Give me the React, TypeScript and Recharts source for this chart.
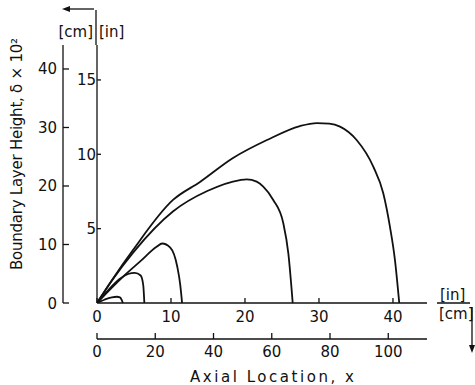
import React from 'react';
import { LineChart, Line, XAxis, YAxis, Customized } from 'recharts';

// tick labels
const xTicksIn = [0, 10, 20, 30, 40];
const xTicksCm = [0, 20, 40, 60, 80, 100];
const yTicksCm = [0, 10, 20, 30, 40];
const yTicksIn = [5, 10, 15];

// boundary layer height curves (x: axial location [in], y: height [in])
const curve1 = [
  { x: 0, y: 0 }, { x: 1.0, y: 0.22 }, { x: 2.0, y: 0.38 }, { x: 2.7, y: 0.42 },
  { x: 3.1, y: 0.38 }, { x: 3.35, y: 0.2 }, { x: 3.5, y: 0 },
];
const curve2 = [
  { x: 0, y: 0 }, { x: 1.5, y: 0.85 }, { x: 3.0, y: 1.6 }, { x: 4.2, y: 1.95 },
  { x: 5.1, y: 2.03 }, { x: 5.9, y: 1.85 }, { x: 6.25, y: 1.2 }, { x: 6.4, y: 0 },
];
const curve3 = [
  { x: 0, y: 0 }, { x: 3.5, y: 1.76 }, { x: 5.8, y: 2.78 }, { x: 8.1, y: 3.8 },
  { x: 8.8, y: 4.0 }, { x: 9.9, y: 3.73 }, { x: 10.85, y: 2.44 }, { x: 11.25, y: 1.22 },
  { x: 11.5, y: 0 },
];
const curve4 = [
  { x: 0, y: 0 }, { x: 2.0, y: 1.5 }, { x: 4.88, y: 3.39 }, { x: 10.3, y: 6.17 },
  { x: 14.9, y: 7.53 }, { x: 19.32, y: 8.27 }, { x: 20.23, y: 8.32 }, { x: 21.58, y: 8.16 },
  { x: 22.47, y: 7.82 }, { x: 23.82, y: 6.93 }, { x: 25.18, y: 5.36 }, { x: 25.86, y: 3.34 },
  { x: 26.45, y: 0 },
];
const curve5 = [
  { x: 0, y: 0 }, { x: 2.03, y: 1.55 }, { x: 4.86, y: 3.56 }, { x: 10.27, y: 6.93 },
  { x: 13.92, y: 8.14 }, { x: 18.38, y: 9.75 }, { x: 22.97, y: 10.96 }, { x: 27.43, y: 11.9 },
  { x: 29.73, y: 12.1 }, { x: 31.4, y: 12.06 }, { x: 32.84, y: 11.86 }, { x: 35.09, y: 10.96 },
  { x: 37.34, y: 9.17 }, { x: 38.69, y: 7.38 }, { x: 39.59, y: 5.13 }, { x: 40.27, y: 2.89 },
  { x: 40.85, y: 0 },
];
const curves = [curve1, curve2, curve3, curve4, curve5];

const FONT = '"DejaVu Sans", sans-serif';
const INK = '#111';

const YTickCm = (p: any) => (
  <g>
    <line x1={p.x} y1={p.y} x2={p.x + 6} y2={p.y} stroke={INK} strokeWidth={1.3} />
    <text x={p.x - 6} y={p.y + 5.5} textAnchor="end" fontFamily={FONT} fontSize={15} fill={INK}>
      {p.payload.value}
    </text>
  </g>
);

const YTickIn = (p: any) => (
  <g>
    <line x1={p.x} y1={p.y} x2={p.x + 4} y2={p.y} stroke={INK} strokeWidth={1.3} />
    <text x={p.x - 1} y={p.y + 5.5} textAnchor="end" fontFamily={FONT} fontSize={15} fill={INK}>
      {p.payload.value}
    </text>
  </g>
);

const XTickIn = (p: any) => (
  <g>
    <line x1={p.x} y1={p.y} x2={p.x} y2={p.y - 5} stroke={INK} strokeWidth={1.3} />
    <text x={p.x} y={p.y + 19} textAnchor="middle" fontFamily={FONT} fontSize={15} fill={INK}>
      {p.payload.value}
    </text>
  </g>
);

const XTickCm = (p: any) => (
  <g>
    <line x1={p.x} y1={p.y} x2={p.x} y2={p.y - 6} stroke={INK} strokeWidth={1.3} />
    <text x={p.x} y={p.y + 18} textAnchor="middle" fontFamily={FONT} fontSize={15} fill={INK}>
      {p.payload.value}
    </text>
  </g>
);

const Annotations = () => (
  <g fontFamily={FONT} fill={INK}>
    <text x={22} y={154} transform="rotate(-90 22 154)" textAnchor="middle" fontSize={15}
      textLength={232} lengthAdjust="spacing">
      Boundary Layer Height, δ × 10²
    </text>
    <text x={272} y={382} textAnchor="middle" fontSize={15} textLength={164} lengthAdjust="spacing">
      Axial Location, x
    </text>
    {/* top unit markers */}
    <text x={93} y={37} textAnchor="end" fontSize={15}>[cm]</text>
    <text x={99} y={37} fontSize={15}>[in]</text>
    <line x1={96} y1={10} x2={96} y2={45} stroke={INK} strokeWidth={1.3} />
    <line x1={68} y1={9} x2={94} y2={9} stroke={INK} strokeWidth={1.3} />
    <polygon points="62,9 70,6 70,12" fill={INK} />
    {/* right unit markers */}
    <text x={440} y={300} fontSize={15}>[in]</text>
    <line x1={437} y1={303} x2={470} y2={303} stroke={INK} strokeWidth={1.3} />
    <text x={439} y={319} fontSize={15}>[cm]</text>
    <line x1={472} y1={307} x2={472} y2={347} stroke={INK} strokeWidth={1.3} />
    <polygon points="472,353 469,345 475,345" fill={INK} />
  </g>
);

// axis ids: "a" = inch axes (nearest the plot), "b" = centimetre axes (outer)
export default function App() {
  return (
    <div style={{ position: 'absolute', left: 0, top: 0 }}>
      <LineChart width={475} height={385} margin={{ top: 45, right: 48, bottom: 26, left: 30 }}>
        <XAxis xAxisId="a" type="number" dataKey="x" domain={[0, 44.6]} ticks={xTicksIn}
          allowDataOverflow interval={0} height={36} tickSize={0} tickMargin={0} tickLine={false}
          tick={<XTickIn />} axisLine={{ stroke: INK, strokeWidth: 1.3 }} />
        <XAxis xAxisId="b" type="number" dataKey="x" domain={[0, 113.3]} ticks={xTicksCm}
          allowDataOverflow interval={0} height={20} tickSize={0} tickMargin={0} tickLine={false}
          tick={<XTickCm />} axisLine={{ stroke: INK, strokeWidth: 1.3 }} />
        <YAxis yAxisId="a" type="number" domain={[0, 17.35]} ticks={yTicksIn}
          allowDataOverflow interval={0} width={34} tickSize={0} tickMargin={0} tickLine={false}
          tick={<YTickIn />} axisLine={{ stroke: INK, strokeWidth: 1.3 }} />
        <YAxis yAxisId="b" type="number" domain={[0, 44.1]} ticks={yTicksCm}
          allowDataOverflow interval={0} width={33} tickSize={0} tickMargin={0} tickLine={false}
          tick={<YTickCm />} axisLine={{ stroke: INK, strokeWidth: 1.3 }} />
        {curves.map((c, i) => (
          <Line key={i} xAxisId="a" yAxisId="a" data={c} dataKey="y" type="monotone"
            stroke={INK} strokeWidth={1.8} dot={false} activeDot={false} isAnimationActive={false} />
        ))}
        <Customized component={<Annotations />} />
      </LineChart>
    </div>
  );
}
